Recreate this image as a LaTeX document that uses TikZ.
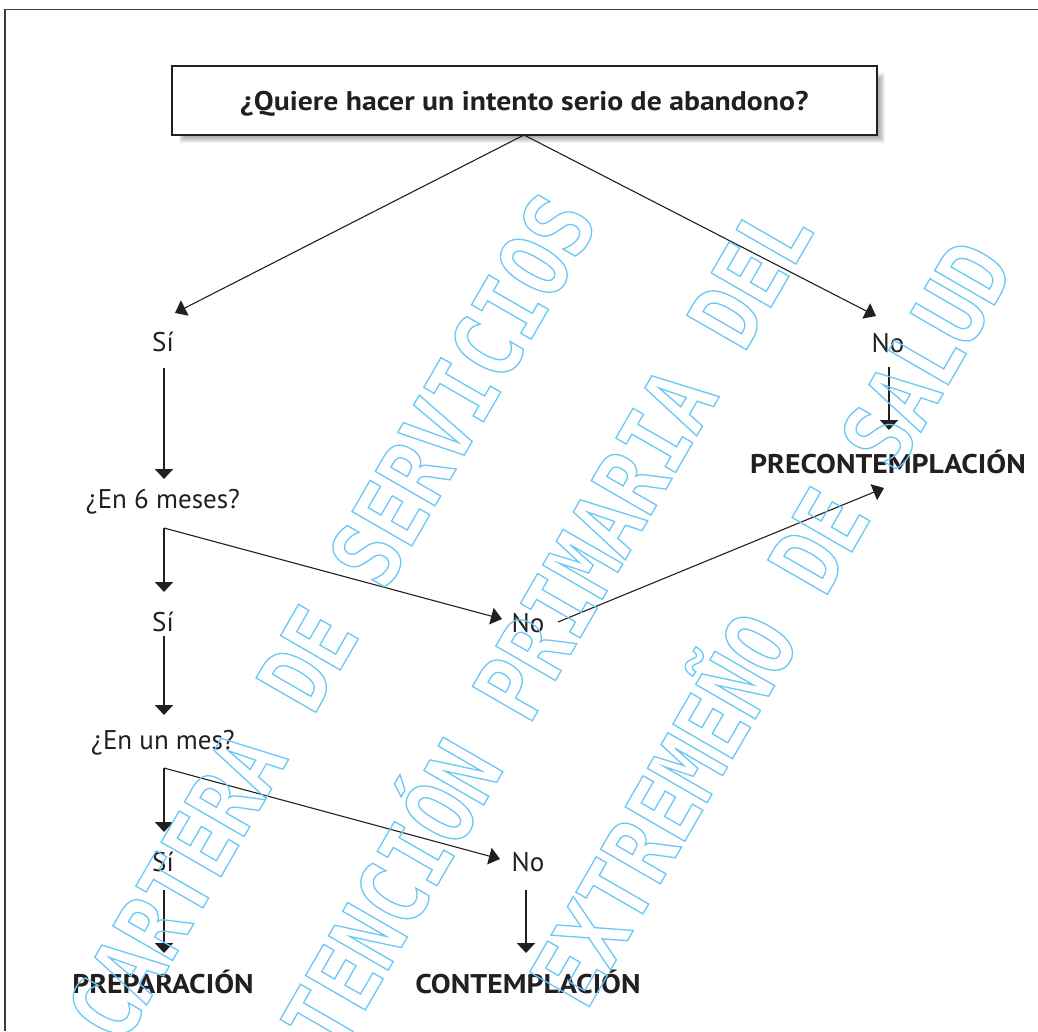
\documentclass[tikz,border=0pt]{standalone}
\usepackage{fontspec}
\setmainfont{PT Sans}
\newfontfamily\boldwide[FakeStretch=1.1]{PT Sans Bold}
\newfontfamily\wmfont[FakeStretch=0.838]{DejaVu Sans Mono}
\usetikzlibrary{arrows.meta}
\definecolor{ink}{RGB}{35,31,32}
\definecolor{wmc}{RGB}{105,200,245}
\definecolor{framec}{RGB}{60,60,60}
\begin{document}
\begin{tikzpicture}[x=1pt,y=-1pt,
  lbl/.style={text=ink,inner sep=0pt,font=\fontsize{27}{30}\selectfont},
  blbl/.style={text=ink,inner sep=0pt,font=\boldwide\fontsize{27}{30}\selectfont},
  thin/.style={draw=ink,line width=1.1pt,-{Triangle[length=11pt,width=17pt]}},
  thick/.style={draw=ink,line width=2pt,-{Triangle[length=10pt,width=18pt]}},
  wm/.style={rotate=60,text=wmc,inner sep=0pt,text height=69pt,text depth=0pt,
    font=\wmfont\bfseries\fontsize{94.6}{94.6}\selectfont}]
\useasboundingbox (0,0) rectangle (1038,1031);
\fill[white] (0,0) rectangle (1038,1031);
% frame
\draw[framec,line width=1.5pt] (5,1031) -- (5,9.5) -- (1038,9.5);
% shadow of question box
\foreach \k in {0,1,...,7}{
  \fill[black,opacity=0.05] (179+7-\k,73+7-\k) rectangle (885-7+\k,143-7+\k);
}
\node[draw=ink,fill=white,line width=1.2pt,minimum width=705pt,minimum height=69pt,inner sep=0pt,
  text depth=0pt,text=ink,font=\boldwide\fontsize{27}{30}\selectfont] (q) at (524.5,100.5) {¿Quiere hacer un intento serio de abandono?};
% labels
\node[lbl] (si1) at (163,342) {Sí};
\node[lbl] (no1) at (888,343) {No};
\node[lbl] (q6) at (163,502) {¿En 6 meses?};
\node[lbl] (si2) at (163,622) {Sí};
\node[lbl] (no2) at (528,623) {No};
\node[lbl] (q1) at (163,743) {¿En un mes?};
\node[lbl] (si3) at (163,862) {Sí};
\node[lbl] (no3) at (528,862) {No};
\node[blbl] (prep) at (163,982) {PREPARACIÓN};
\node[blbl] (cont) at (528,982) {CONTEMPLACIÓN};
\node[blbl] (precont) at (888,462) {PRECONTEMPLACIÓN};
% connector coordinates
\coordinate (top) at (524,135);
\coordinate (tsi1) at (175,313);
\coordinate (tno1) at (876,316);
\coordinate (s1a) at (164,368);
\coordinate (s1b) at (164,479);
\coordinate (c6) at (164,528);
\coordinate (c6a) at (164,592);
\coordinate (c6b) at (502,619);
\coordinate (s2a) at (164,636);
\coordinate (s2b) at (164,715);
\coordinate (c1) at (164,768);
\coordinate (c1a) at (164,832);
\coordinate (c1b) at (500,859);
\coordinate (s3a) at (164,890);
\coordinate (s3b) at (164,953);
\coordinate (n3a) at (526,890);
\coordinate (n3b) at (526,953);
\coordinate (n1a) at (889,367);
\coordinate (n1b) at (889,430);
\coordinate (n2a) at (558,622);
\coordinate (n2b) at (884,488);
% connectors
\draw[thin] (top) -- (tsi1);
\draw[thin] (top) -- (tno1);
\draw[thick] (s1a) -- (s1b);
\draw[thick] (c6) -- (c6a);
\draw[thin] (c6) -- (c6b);
\draw[thick] (s2a) -- (s2b);
\draw[thick] (c1) -- (c1a);
\draw[thin] (c1) -- (c1b);
\draw[thick] (s3a) -- (s3b);
\draw[thick] (n3a) -- (n3b);
\draw[thick] (n1a) -- (n1b);
\draw[thin] (n2a) -- (n2b);
% watermark (outlined text)
\node[wm] (wm1) at (331,617) {\special{pdf:code 1 Tr 1.3 w}CARTERA DE SERVICIOS\special{pdf:code 0 Tr}};
\node[wm] (wm2) at (535,647) {\special{pdf:code 1 Tr 1.3 w}ATENCIÓN PRIMARIA DEL\special{pdf:code 0 Tr}};
\node[wm] (wm3) at (771,623) {\special{pdf:code 1 Tr 1.3 w}EXTREMEÑO DE SALUD\special{pdf:code 0 Tr}};
\end{tikzpicture}
\end{document}
